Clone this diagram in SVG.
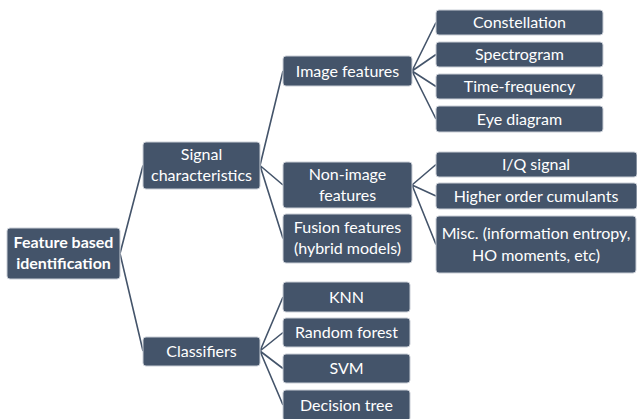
<svg xmlns="http://www.w3.org/2000/svg" width="637" height="419" viewBox="0 0 637 419">
<style>
.b{fill:#44546A;stroke:#c9ced6;stroke-width:1}
.t{fill:#ffffff;font-family:Lato,"Liberation Sans",sans-serif;font-size:16px;text-anchor:middle}
.bold{font-weight:bold}
.c{stroke:#44546A;stroke-width:1.6;fill:none}
</style>
<rect width="637" height="419" fill="#ffffff"/>
<g id="connectors">
<path class="c" d="M120,253.5L143,165.5M120,253.5L143,351"/>
<path class="c" d="M260,165.5L283,71M260,165.5L283,185M260,165.5L283,238.5"/>
<path class="c" d="M412,71L436,22.5M412,71L436,54.5M412,71L436,86.5M412,71L436,119"/>
<path class="c" d="M412,185L436,164.5M412,185L436,196M412,185L436,244.5"/>
<path class="c" d="M260,351L283,297M260,351L283,332.5M260,351L283,368.5M260,351L283,405"/>
</g>
<g id="root"><rect class="b" x="7" y="228" width="113" height="51" rx="3"/><text class="t bold" x="63.5" y="248">Feature based</text><text class="t bold" x="63.5" y="269">identification</text></g>
<g id="signal"><rect class="b" x="143" y="142" width="117" height="47" rx="3"/><text class="t" x="201.5" y="160">Signal</text><text class="t" x="201.5" y="181">characteristics</text></g>
<g id="classifiers"><rect class="b" x="143" y="337" width="117" height="29" rx="3"/><text class="t" x="201.5" y="357">Classifiers</text></g>
<g id="image"><rect class="b" x="283" y="56" width="129" height="30" rx="3"/><text class="t" x="347.5" y="76.5">Image features</text></g>
<g id="nonimage"><rect class="b" x="283" y="162" width="129" height="46" rx="3"/><text class="t" x="347.5" y="180">Non-image</text><text class="t" x="347.5" y="201">features</text></g>
<g id="fusion"><rect class="b" x="283" y="214" width="129" height="49" rx="3"/><text class="t" x="347.5" y="233">Fusion features</text><text class="t" x="347.5" y="254">(hybrid models)</text></g>
<g id="constellation"><rect class="b" x="436" y="10" width="167" height="25" rx="3"/><text class="t" x="519.5" y="28">Constellation</text></g>
<g id="spectrogram"><rect class="b" x="436" y="42" width="167" height="25" rx="3"/><text class="t" x="519.5" y="60">Spectrogram</text></g>
<g id="timefreq"><rect class="b" x="436" y="74" width="167" height="25" rx="3"/><text class="t" x="519.5" y="92">Time-frequency</text></g>
<g id="eye"><rect class="b" x="436" y="106" width="167" height="26" rx="3"/><text class="t" x="519.5" y="124.5">Eye diagram</text></g>
<g id="iq"><rect class="b" x="436" y="152" width="201" height="25" rx="3"/><text class="t" x="536" y="170">I/Q signal</text></g>
<g id="hoc"><rect class="b" x="436" y="183" width="201" height="26" rx="3"/><text class="t" x="536" y="201.5">Higher order cumulants</text></g>
<g id="misc"><rect class="b" x="436" y="216" width="200" height="57" rx="3"/><text class="t" x="536" y="239">Misc. (information entropy,</text><text class="t" x="536" y="261">HO moments, etc)</text></g>
<g id="knn"><rect class="b" x="283" y="282" width="127" height="30" rx="3"/><text class="t" x="346.5" y="302.5">KNN</text></g>
<g id="rf"><rect class="b" x="283" y="318" width="127" height="29" rx="3"/><text class="t" x="346.5" y="338">Random forest</text></g>
<g id="svm"><rect class="b" x="283" y="354" width="127" height="29" rx="3"/><text class="t" x="346.5" y="374">SVM</text></g>
<g id="dt"><rect class="b" x="283" y="390" width="127" height="31" rx="3"/><text class="t" x="346.5" y="411">Decision tree</text></g>
</svg>
